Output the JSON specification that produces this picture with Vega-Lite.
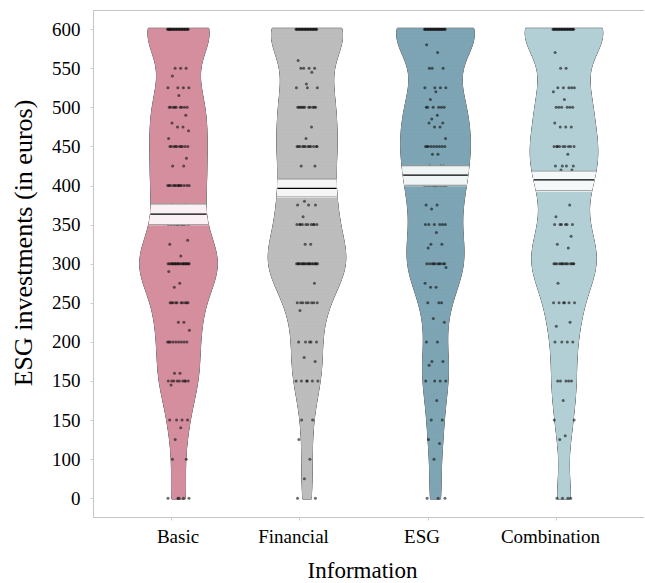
{
"$schema": "https://vega.github.io/schema/vega-lite/v6.json",
"usermeta": {"embedOptions": {"actions": false}},
"autosize": {"type": "none"},
"padding": {"left": 93, "top": 10, "right": -1, "bottom": 66},
"width": 552,
"height": 507,
"config": {"view": {"stroke": "#c4c4c4", "strokeWidth": 1}, "font": "Liberation Serif"},
"datasets": {
"stats": [
{"g":"Basic","mean":363,"lo":350,"hi":376},
{"g":"Financial","mean":396,"lo":385,"hi":408},
{"g":"ESG","mean":413,"lo":400,"hi":425},
{"g":"Combination","mean":407,"lo":393,"hi":418}
],
"pts": [
{"g":"Basic","v":600},{"g":"Basic","v":600},{"g":"Basic","v":600},{"g":"Basic","v":600},{"g":"Basic","v":600},
{"g":"Basic","v":600},{"g":"Basic","v":600},{"g":"Basic","v":600},{"g":"Basic","v":600},{"g":"Basic","v":600},
{"g":"Basic","v":600},{"g":"Basic","v":600},{"g":"Basic","v":600},{"g":"Basic","v":600},{"g":"Basic","v":600},
{"g":"Basic","v":600},{"g":"Basic","v":600},{"g":"Basic","v":600},{"g":"Basic","v":600},{"g":"Basic","v":600},
{"g":"Basic","v":600},{"g":"Basic","v":600},{"g":"Basic","v":600},{"g":"Basic","v":600},{"g":"Basic","v":600},
{"g":"Basic","v":550},{"g":"Basic","v":550},{"g":"Basic","v":550},{"g":"Basic","v":540},
{"g":"Basic","v":525},{"g":"Basic","v":525},{"g":"Basic","v":525},{"g":"Basic","v":525},{"g":"Basic","v":515},
{"g":"Basic","v":500},{"g":"Basic","v":500},{"g":"Basic","v":500},{"g":"Basic","v":500},{"g":"Basic","v":500},
{"g":"Basic","v":500},{"g":"Basic","v":500},{"g":"Basic","v":500},{"g":"Basic","v":500},
{"g":"Basic","v":490},{"g":"Basic","v":480},{"g":"Basic","v":475},{"g":"Basic","v":475},{"g":"Basic","v":470},{"g":"Basic","v":460},
{"g":"Basic","v":450},{"g":"Basic","v":450},{"g":"Basic","v":450},{"g":"Basic","v":450},{"g":"Basic","v":450},
{"g":"Basic","v":450},{"g":"Basic","v":450},{"g":"Basic","v":450},{"g":"Basic","v":450},{"g":"Basic","v":450},
{"g":"Basic","v":435},{"g":"Basic","v":425},{"g":"Basic","v":425},
{"g":"Basic","v":400},{"g":"Basic","v":400},{"g":"Basic","v":400},{"g":"Basic","v":400},{"g":"Basic","v":400},
{"g":"Basic","v":400},{"g":"Basic","v":400},{"g":"Basic","v":400},{"g":"Basic","v":400},{"g":"Basic","v":400},
{"g":"Basic","v":400},{"g":"Basic","v":400},{"g":"Basic","v":400},
{"g":"Basic","v":375},{"g":"Basic","v":375},
{"g":"Basic","v":350},{"g":"Basic","v":350},{"g":"Basic","v":350},{"g":"Basic","v":350},{"g":"Basic","v":350},
{"g":"Basic","v":350},{"g":"Basic","v":350},{"g":"Basic","v":350},{"g":"Basic","v":350},{"g":"Basic","v":350},
{"g":"Basic","v":330},{"g":"Basic","v":325},{"g":"Basic","v":310},
{"g":"Basic","v":300},{"g":"Basic","v":300},{"g":"Basic","v":300},{"g":"Basic","v":300},{"g":"Basic","v":300},
{"g":"Basic","v":300},{"g":"Basic","v":300},{"g":"Basic","v":300},{"g":"Basic","v":300},{"g":"Basic","v":300},
{"g":"Basic","v":300},{"g":"Basic","v":300},{"g":"Basic","v":300},{"g":"Basic","v":300},{"g":"Basic","v":300},
{"g":"Basic","v":300},{"g":"Basic","v":300},{"g":"Basic","v":300},{"g":"Basic","v":300},{"g":"Basic","v":300},
{"g":"Basic","v":300},{"g":"Basic","v":300},
{"g":"Basic","v":290},{"g":"Basic","v":275},{"g":"Basic","v":270},
{"g":"Basic","v":250},{"g":"Basic","v":250},{"g":"Basic","v":250},{"g":"Basic","v":250},{"g":"Basic","v":250},
{"g":"Basic","v":250},{"g":"Basic","v":250},{"g":"Basic","v":250},{"g":"Basic","v":250},{"g":"Basic","v":250},
{"g":"Basic","v":225},{"g":"Basic","v":225},{"g":"Basic","v":215},
{"g":"Basic","v":200},{"g":"Basic","v":200},{"g":"Basic","v":200},{"g":"Basic","v":200},{"g":"Basic","v":200},
{"g":"Basic","v":200},{"g":"Basic","v":200},{"g":"Basic","v":200},{"g":"Basic","v":200},
{"g":"Basic","v":160},{"g":"Basic","v":160},
{"g":"Basic","v":150},{"g":"Basic","v":150},{"g":"Basic","v":150},{"g":"Basic","v":150},{"g":"Basic","v":150},
{"g":"Basic","v":150},{"g":"Basic","v":150},{"g":"Basic","v":150},{"g":"Basic","v":150},
{"g":"Basic","v":145},
{"g":"Basic","v":100},{"g":"Basic","v":100},{"g":"Basic","v":100},{"g":"Basic","v":100},
{"g":"Basic","v":90},{"g":"Basic","v":75},{"g":"Basic","v":50},{"g":"Basic","v":50},
{"g":"Basic","v":0},{"g":"Basic","v":0},{"g":"Basic","v":0},{"g":"Basic","v":0},{"g":"Basic","v":0},

{"g":"Financial","v":600},{"g":"Financial","v":600},{"g":"Financial","v":600},{"g":"Financial","v":600},{"g":"Financial","v":600},
{"g":"Financial","v":600},{"g":"Financial","v":600},{"g":"Financial","v":600},{"g":"Financial","v":600},{"g":"Financial","v":600},
{"g":"Financial","v":600},{"g":"Financial","v":600},{"g":"Financial","v":600},{"g":"Financial","v":600},{"g":"Financial","v":600},
{"g":"Financial","v":600},{"g":"Financial","v":600},{"g":"Financial","v":600},{"g":"Financial","v":600},{"g":"Financial","v":600},
{"g":"Financial","v":600},{"g":"Financial","v":600},{"g":"Financial","v":600},{"g":"Financial","v":600},
{"g":"Financial","v":560},
{"g":"Financial","v":550},{"g":"Financial","v":550},{"g":"Financial","v":550},{"g":"Financial","v":550},
{"g":"Financial","v":545},{"g":"Financial","v":530},
{"g":"Financial","v":525},{"g":"Financial","v":525},{"g":"Financial","v":525},
{"g":"Financial","v":500},{"g":"Financial","v":500},{"g":"Financial","v":500},{"g":"Financial","v":500},{"g":"Financial","v":500},
{"g":"Financial","v":500},{"g":"Financial","v":500},{"g":"Financial","v":500},{"g":"Financial","v":500},{"g":"Financial","v":500},
{"g":"Financial","v":500},
{"g":"Financial","v":475},{"g":"Financial","v":460},
{"g":"Financial","v":450},{"g":"Financial","v":450},{"g":"Financial","v":450},{"g":"Financial","v":450},{"g":"Financial","v":450},
{"g":"Financial","v":450},{"g":"Financial","v":450},{"g":"Financial","v":450},{"g":"Financial","v":450},{"g":"Financial","v":450},
{"g":"Financial","v":450},{"g":"Financial","v":450},
{"g":"Financial","v":425},{"g":"Financial","v":425},
{"g":"Financial","v":400},{"g":"Financial","v":400},{"g":"Financial","v":400},{"g":"Financial","v":400},{"g":"Financial","v":400},
{"g":"Financial","v":400},{"g":"Financial","v":400},{"g":"Financial","v":400},{"g":"Financial","v":400},
{"g":"Financial","v":380},{"g":"Financial","v":375},{"g":"Financial","v":375},{"g":"Financial","v":375},{"g":"Financial","v":360},
{"g":"Financial","v":350},{"g":"Financial","v":350},{"g":"Financial","v":350},{"g":"Financial","v":350},{"g":"Financial","v":350},
{"g":"Financial","v":350},{"g":"Financial","v":350},{"g":"Financial","v":350},{"g":"Financial","v":350},{"g":"Financial","v":350},
{"g":"Financial","v":325},{"g":"Financial","v":325},
{"g":"Financial","v":300},{"g":"Financial","v":300},{"g":"Financial","v":300},{"g":"Financial","v":300},{"g":"Financial","v":300},
{"g":"Financial","v":300},{"g":"Financial","v":300},{"g":"Financial","v":300},{"g":"Financial","v":300},{"g":"Financial","v":300},
{"g":"Financial","v":300},{"g":"Financial","v":300},{"g":"Financial","v":300},{"g":"Financial","v":300},{"g":"Financial","v":300},
{"g":"Financial","v":300},{"g":"Financial","v":300},{"g":"Financial","v":300},{"g":"Financial","v":300},{"g":"Financial","v":300},
{"g":"Financial","v":275},
{"g":"Financial","v":250},{"g":"Financial","v":250},{"g":"Financial","v":250},{"g":"Financial","v":250},{"g":"Financial","v":250},
{"g":"Financial","v":250},{"g":"Financial","v":250},{"g":"Financial","v":250},
{"g":"Financial","v":240},
{"g":"Financial","v":200},{"g":"Financial","v":200},{"g":"Financial","v":200},{"g":"Financial","v":200},{"g":"Financial","v":200},
{"g":"Financial","v":180},{"g":"Financial","v":175},
{"g":"Financial","v":150},{"g":"Financial","v":150},{"g":"Financial","v":150},{"g":"Financial","v":150},{"g":"Financial","v":150},
{"g":"Financial","v":150},
{"g":"Financial","v":100},{"g":"Financial","v":100},
{"g":"Financial","v":75},{"g":"Financial","v":50},{"g":"Financial","v":25},
{"g":"Financial","v":0},{"g":"Financial","v":0},

{"g":"ESG","v":600},{"g":"ESG","v":600},{"g":"ESG","v":600},{"g":"ESG","v":600},{"g":"ESG","v":600},
{"g":"ESG","v":600},{"g":"ESG","v":600},{"g":"ESG","v":600},{"g":"ESG","v":600},{"g":"ESG","v":600},
{"g":"ESG","v":600},{"g":"ESG","v":600},{"g":"ESG","v":600},{"g":"ESG","v":600},{"g":"ESG","v":600},
{"g":"ESG","v":600},{"g":"ESG","v":600},{"g":"ESG","v":600},{"g":"ESG","v":600},{"g":"ESG","v":600},
{"g":"ESG","v":600},{"g":"ESG","v":600},{"g":"ESG","v":600},{"g":"ESG","v":600},
{"g":"ESG","v":580},{"g":"ESG","v":570},
{"g":"ESG","v":550},{"g":"ESG","v":550},{"g":"ESG","v":550},
{"g":"ESG","v":525},{"g":"ESG","v":525},{"g":"ESG","v":525},{"g":"ESG","v":525},
{"g":"ESG","v":520},{"g":"ESG","v":510},
{"g":"ESG","v":500},{"g":"ESG","v":500},{"g":"ESG","v":500},{"g":"ESG","v":500},{"g":"ESG","v":500},{"g":"ESG","v":500},
{"g":"ESG","v":490},{"g":"ESG","v":485},{"g":"ESG","v":480},{"g":"ESG","v":480},{"g":"ESG","v":475},{"g":"ESG","v":475},{"g":"ESG","v":460},
{"g":"ESG","v":450},{"g":"ESG","v":450},{"g":"ESG","v":450},{"g":"ESG","v":450},{"g":"ESG","v":450},
{"g":"ESG","v":450},{"g":"ESG","v":450},{"g":"ESG","v":450},{"g":"ESG","v":450},
{"g":"ESG","v":440},{"g":"ESG","v":440},
{"g":"ESG","v":425},{"g":"ESG","v":425},{"g":"ESG","v":425},
{"g":"ESG","v":400},{"g":"ESG","v":400},{"g":"ESG","v":400},{"g":"ESG","v":400},{"g":"ESG","v":400},
{"g":"ESG","v":400},{"g":"ESG","v":400},{"g":"ESG","v":400},{"g":"ESG","v":400},{"g":"ESG","v":400},
{"g":"ESG","v":375},{"g":"ESG","v":375},{"g":"ESG","v":370},
{"g":"ESG","v":350},{"g":"ESG","v":350},{"g":"ESG","v":350},{"g":"ESG","v":350},{"g":"ESG","v":350},{"g":"ESG","v":350},
{"g":"ESG","v":340},{"g":"ESG","v":325},{"g":"ESG","v":325},{"g":"ESG","v":320},
{"g":"ESG","v":300},{"g":"ESG","v":300},{"g":"ESG","v":300},{"g":"ESG","v":300},{"g":"ESG","v":300},
{"g":"ESG","v":300},{"g":"ESG","v":300},{"g":"ESG","v":300},{"g":"ESG","v":300},{"g":"ESG","v":300},
{"g":"ESG","v":295},{"g":"ESG","v":275},{"g":"ESG","v":270},{"g":"ESG","v":270},
{"g":"ESG","v":250},{"g":"ESG","v":250},{"g":"ESG","v":250},
{"g":"ESG","v":230},{"g":"ESG","v":225},
{"g":"ESG","v":200},{"g":"ESG","v":200},
{"g":"ESG","v":175},{"g":"ESG","v":175},{"g":"ESG","v":170},
{"g":"ESG","v":150},{"g":"ESG","v":150},{"g":"ESG","v":150},{"g":"ESG","v":150},
{"g":"ESG","v":125},{"g":"ESG","v":100},{"g":"ESG","v":100},
{"g":"ESG","v":75},{"g":"ESG","v":70},{"g":"ESG","v":50},
{"g":"ESG","v":0},{"g":"ESG","v":0},{"g":"ESG","v":0},

{"g":"Combination","v":600},{"g":"Combination","v":600},{"g":"Combination","v":600},{"g":"Combination","v":600},{"g":"Combination","v":600},
{"g":"Combination","v":600},{"g":"Combination","v":600},{"g":"Combination","v":600},{"g":"Combination","v":600},{"g":"Combination","v":600},
{"g":"Combination","v":600},{"g":"Combination","v":600},{"g":"Combination","v":600},{"g":"Combination","v":600},{"g":"Combination","v":600},
{"g":"Combination","v":600},{"g":"Combination","v":600},{"g":"Combination","v":600},{"g":"Combination","v":600},{"g":"Combination","v":600},
{"g":"Combination","v":600},{"g":"Combination","v":600},{"g":"Combination","v":600},{"g":"Combination","v":600},
{"g":"Combination","v":570},
{"g":"Combination","v":550},{"g":"Combination","v":550},
{"g":"Combination","v":525},{"g":"Combination","v":525},{"g":"Combination","v":525},{"g":"Combination","v":525},{"g":"Combination","v":525},
{"g":"Combination","v":520},{"g":"Combination","v":510},
{"g":"Combination","v":500},{"g":"Combination","v":500},{"g":"Combination","v":500},{"g":"Combination","v":500},{"g":"Combination","v":500},{"g":"Combination","v":500},
{"g":"Combination","v":480},{"g":"Combination","v":475},{"g":"Combination","v":475},{"g":"Combination","v":475},
{"g":"Combination","v":450},{"g":"Combination","v":450},{"g":"Combination","v":450},{"g":"Combination","v":450},{"g":"Combination","v":450},
{"g":"Combination","v":450},{"g":"Combination","v":450},{"g":"Combination","v":450},{"g":"Combination","v":450},
{"g":"Combination","v":440},
{"g":"Combination","v":425},{"g":"Combination","v":425},{"g":"Combination","v":425},{"g":"Combination","v":425},
{"g":"Combination","v":420},{"g":"Combination","v":420},
{"g":"Combination","v":400},{"g":"Combination","v":400},{"g":"Combination","v":400},{"g":"Combination","v":400},{"g":"Combination","v":400},
{"g":"Combination","v":400},{"g":"Combination","v":400},
{"g":"Combination","v":375},{"g":"Combination","v":360},
{"g":"Combination","v":350},{"g":"Combination","v":350},{"g":"Combination","v":350},{"g":"Combination","v":350},{"g":"Combination","v":350},{"g":"Combination","v":350},
{"g":"Combination","v":335},{"g":"Combination","v":325},{"g":"Combination","v":320},
{"g":"Combination","v":300},{"g":"Combination","v":300},{"g":"Combination","v":300},{"g":"Combination","v":300},{"g":"Combination","v":300},
{"g":"Combination","v":300},{"g":"Combination","v":300},{"g":"Combination","v":300},{"g":"Combination","v":300},{"g":"Combination","v":300},
{"g":"Combination","v":300},{"g":"Combination","v":300},{"g":"Combination","v":300},{"g":"Combination","v":300},
{"g":"Combination","v":275},
{"g":"Combination","v":250},{"g":"Combination","v":250},{"g":"Combination","v":250},{"g":"Combination","v":250},{"g":"Combination","v":250},{"g":"Combination","v":250},
{"g":"Combination","v":225},{"g":"Combination","v":220},
{"g":"Combination","v":200},{"g":"Combination","v":200},{"g":"Combination","v":200},{"g":"Combination","v":200},
{"g":"Combination","v":150},{"g":"Combination","v":150},{"g":"Combination","v":150},{"g":"Combination","v":150},{"g":"Combination","v":150},
{"g":"Combination","v":125},{"g":"Combination","v":100},{"g":"Combination","v":100},
{"g":"Combination","v":80},{"g":"Combination","v":75},
{"g":"Combination","v":0},{"g":"Combination","v":0},{"g":"Combination","v":0},{"g":"Combination","v":0}
]
},
"data": {"name": "pts"},
"encoding": {
"x": {"field": "g", "type": "nominal",
 "scale": {"domain": ["Basic","Financial","ESG","Combination"], "paddingInner": 0.8288, "paddingOuter": 0.5623, "align": 0.5156},
 "axis": {"title": "Information", "labelAngle": 0, "labelFont": "Liberation Serif", "labelFontSize": 19, "labelColor": "#000000",
  "labelOffset": {"condition": {"test": "datum.value == 'Basic'", "value": 7}, "value": -6},
  "tickOffset": -8, "ticks": true, "tickSize": 3, "tickColor": "#cfcfcf", "domain": false, "grid": false,
  "labelPadding": 22, "labelBaseline": "alphabetic",
  "titleFont": "Liberation Serif", "titleFontSize": 23, "titleFontWeight": "normal", "titleColor": "#000000",
  "titleX": 269, "titleY": 60.5, "titleBaseline": "alphabetic", "titleAlign": "center", "titleAnchor": null}},
"y": {"field": "v", "type": "quantitative",
 "scale": {"domain": [-24, 624.5], "nice": false, "zero": false},
 "axis": {"title": "ESG investments (in euros)", "values": [0,50,100,150,200,250,300,350,400,450,500,550,600],
  "labelExpr": "datum.value == 50 ? '100' : (datum.value == 100 ? '150' : datum.label)",
  "labelFont": "Liberation Serif", "labelFontSize": 19, "labelColor": "#000000", "tickSize": 3, "tickColor": "#cfcfcf",
  "labelPadding": 10, "domain": false, "grid": false,
  "titleFont": "Liberation Serif", "titleFontSize": 26, "titleFontWeight": "normal", "titleColor": "#000000",
  "titleX": -62, "titleY": 232.5, "titleAngle": -90, "titleAlign": "center", "titleBaseline": "alphabetic", "titleAnchor": null}}
},
"resolve": {"scale": {"size": "independent"}},
"layer": [
{"transform": [{"filter": {"field": "g", "equal": "Basic"}}],
 "layer": [
  {"transform": [{"density": "v", "groupby": ["g"], "extent": [0, 600], "steps": 601, "bandwidth": 34, "as": ["v", "density"]}],
   "mark": {"type": "tick", "thickness": 2, "opacity": 1, "color": "#707070", "stroke": "#707070", "strokeWidth": 1},
   "encoding": {"size": {"field": "density", "type": "quantitative", "scale": {"range": [0, 77.5], "zero": true, "nice": false}, "legend": null}}},
  {"transform": [{"density": "v", "groupby": ["g"], "extent": [0, 600], "steps": 601, "bandwidth": 34, "as": ["v", "density"]}],
   "mark": {"type": "tick", "thickness": 2, "opacity": 1, "color": "#d48e9e"},
   "encoding": {"size": {"field": "density", "type": "quantitative", "scale": {"range": [0, 77.5], "zero": true, "nice": false}, "legend": null}}},
  {"transform": [{"window": [{"op": "row_number", "as": "r"}], "groupby": ["g"]}],
   "mark": {"type": "circle", "size": 9, "color": "#141414", "opacity": 0.62},
   "encoding": {"xOffset": {"field": "r", "type": "ordinal", "scale": {"domain": [1,129,65,193,33,161,97,225,17,145,81,209,49,177,113,241,9,137,73,201,41,169,105,233,25,153,89,217,57,185,121,249,5,133,69,197,37,165,101,229,21,149,85,213,53,181,117,245,13,141,77,205,45,173,109,237,29,157,93,221,61,189,125,253,3,131,67,195,35,163,99,227,19,147,83,211,51,179,115,243,11,139,75,203,43,171,107,235,27,155,91,219,59,187,123,251,7,135,71,199,39,167,103,231,23,151,87,215,55,183,119,247,15,143,79,207,47,175,111,239,31,159,95,223,63,191,127,255,2,130,66,194,34,162,98,226,18,146,82,210,50,178,114,242,10,138,74,202,42,170,106,234,26,154,90,218,58,186,122,250,6,134,70,198,38,166,102,230,22,150,86,214,54,182,118,246,14,142,78,206,46,174,110,238,30,158,94,222,62,190,126,254,4,132,68,196,36,164,100,228,20,148,84,212,52,180,116,244,12,140,76,204,44,172,108,236,28,156,92,220,60,188,124,252,8,136,72,200,40,168,104,232,24,152,88,216,56,184,120,248,16,144,80,208,48,176,112,240,32,160,96,224,64,192,128,256]}}}},
  {"transform": [{"density": "v", "groupby": ["g"], "extent": [0, 600], "steps": 601, "bandwidth": 34, "as": ["v", "density"]},
    {"lookup": "g", "from": {"data": {"name": "stats"}, "key": "g", "fields": ["mean", "lo", "hi"]}},
    {"filter": "datum.v >= datum.lo && datum.v <= datum.hi"}],
   "mark": {"type": "tick", "thickness": 2, "opacity": 1, "color": "#f9f1f3"},
   "encoding": {"size": {"field": "density", "type": "quantitative", "scale": {"range": [0, 77.5], "zero": true, "nice": false}, "legend": null}}},
  {"transform": [{"density": "v", "groupby": ["g"], "extent": [0, 600], "steps": 601, "bandwidth": 34, "as": ["v", "density"]},
    {"lookup": "g", "from": {"data": {"name": "stats"}, "key": "g", "fields": ["mean", "lo", "hi"]}},
    {"filter": "abs(datum.v - datum.lo) < 0.5 || abs(datum.v - datum.hi) < 0.5"}],
   "mark": {"type": "tick", "thickness": 0.8, "opacity": 1, "color": "#8a8a8a"},
   "encoding": {"size": {"field": "density", "type": "quantitative", "scale": {"range": [0, 77.5], "zero": true, "nice": false}, "legend": null}}},
  {"transform": [{"density": "v", "groupby": ["g"], "extent": [0, 600], "steps": 601, "bandwidth": 34, "as": ["v", "density"]},
    {"lookup": "g", "from": {"data": {"name": "stats"}, "key": "g", "fields": ["mean", "lo", "hi"]}},
    {"filter": "abs(datum.v - datum.mean) < 0.5"}],
   "mark": {"type": "tick", "thickness": 1.3, "opacity": 1, "color": "#000000"},
   "encoding": {"size": {"field": "density", "type": "quantitative", "scale": {"range": [0, 77.5], "zero": true, "nice": false}, "legend": null}}}
 ]},
{"transform": [{"filter": {"field": "g", "equal": "Financial"}}],
 "layer": [
  {"transform": [{"density": "v", "groupby": ["g"], "extent": [0, 600], "steps": 601, "bandwidth": 34, "as": ["v", "density"]}],
   "mark": {"type": "tick", "thickness": 2, "opacity": 1, "color": "#707070", "stroke": "#707070", "strokeWidth": 1},
   "encoding": {"size": {"field": "density", "type": "quantitative", "scale": {"range": [0, 77.5], "zero": true, "nice": false}, "legend": null}}},
  {"transform": [{"density": "v", "groupby": ["g"], "extent": [0, 600], "steps": 601, "bandwidth": 34, "as": ["v", "density"]}],
   "mark": {"type": "tick", "thickness": 2, "opacity": 1, "color": "#bdbdbd"},
   "encoding": {"size": {"field": "density", "type": "quantitative", "scale": {"range": [0, 77.5], "zero": true, "nice": false}, "legend": null}}},
  {"transform": [{"window": [{"op": "row_number", "as": "r"}], "groupby": ["g"]}],
   "mark": {"type": "circle", "size": 9, "color": "#141414", "opacity": 0.62},
   "encoding": {"xOffset": {"field": "r", "type": "ordinal", "scale": {"domain": [1,129,65,193,33,161,97,225,17,145,81,209,49,177,113,241,9,137,73,201,41,169,105,233,25,153,89,217,57,185,121,249,5,133,69,197,37,165,101,229,21,149,85,213,53,181,117,245,13,141,77,205,45,173,109,237,29,157,93,221,61,189,125,253,3,131,67,195,35,163,99,227,19,147,83,211,51,179,115,243,11,139,75,203,43,171,107,235,27,155,91,219,59,187,123,251,7,135,71,199,39,167,103,231,23,151,87,215,55,183,119,247,15,143,79,207,47,175,111,239,31,159,95,223,63,191,127,255,2,130,66,194,34,162,98,226,18,146,82,210,50,178,114,242,10,138,74,202,42,170,106,234,26,154,90,218,58,186,122,250,6,134,70,198,38,166,102,230,22,150,86,214,54,182,118,246,14,142,78,206,46,174,110,238,30,158,94,222,62,190,126,254,4,132,68,196,36,164,100,228,20,148,84,212,52,180,116,244,12,140,76,204,44,172,108,236,28,156,92,220,60,188,124,252,8,136,72,200,40,168,104,232,24,152,88,216,56,184,120,248,16,144,80,208,48,176,112,240,32,160,96,224,64,192,128,256]}}}},
  {"transform": [{"density": "v", "groupby": ["g"], "extent": [0, 600], "steps": 601, "bandwidth": 34, "as": ["v", "density"]},
    {"lookup": "g", "from": {"data": {"name": "stats"}, "key": "g", "fields": ["mean", "lo", "hi"]}},
    {"filter": "datum.v >= datum.lo && datum.v <= datum.hi"}],
   "mark": {"type": "tick", "thickness": 2, "opacity": 1, "color": "#f5f5f5"},
   "encoding": {"size": {"field": "density", "type": "quantitative", "scale": {"range": [0, 77.5], "zero": true, "nice": false}, "legend": null}}},
  {"transform": [{"density": "v", "groupby": ["g"], "extent": [0, 600], "steps": 601, "bandwidth": 34, "as": ["v", "density"]},
    {"lookup": "g", "from": {"data": {"name": "stats"}, "key": "g", "fields": ["mean", "lo", "hi"]}},
    {"filter": "abs(datum.v - datum.lo) < 0.5 || abs(datum.v - datum.hi) < 0.5"}],
   "mark": {"type": "tick", "thickness": 0.8, "opacity": 1, "color": "#8a8a8a"},
   "encoding": {"size": {"field": "density", "type": "quantitative", "scale": {"range": [0, 77.5], "zero": true, "nice": false}, "legend": null}}},
  {"transform": [{"density": "v", "groupby": ["g"], "extent": [0, 600], "steps": 601, "bandwidth": 34, "as": ["v", "density"]},
    {"lookup": "g", "from": {"data": {"name": "stats"}, "key": "g", "fields": ["mean", "lo", "hi"]}},
    {"filter": "abs(datum.v - datum.mean) < 0.5"}],
   "mark": {"type": "tick", "thickness": 1.3, "opacity": 1, "color": "#000000"},
   "encoding": {"size": {"field": "density", "type": "quantitative", "scale": {"range": [0, 77.5], "zero": true, "nice": false}, "legend": null}}}
 ]},
{"transform": [{"filter": {"field": "g", "equal": "ESG"}}],
 "layer": [
  {"transform": [{"density": "v", "groupby": ["g"], "extent": [0, 600], "steps": 601, "bandwidth": 34, "as": ["v", "density"]}],
   "mark": {"type": "tick", "thickness": 2, "opacity": 1, "color": "#707070", "stroke": "#707070", "strokeWidth": 1},
   "encoding": {"size": {"field": "density", "type": "quantitative", "scale": {"range": [0, 77.5], "zero": true, "nice": false}, "legend": null}}},
  {"transform": [{"density": "v", "groupby": ["g"], "extent": [0, 600], "steps": 601, "bandwidth": 34, "as": ["v", "density"]}],
   "mark": {"type": "tick", "thickness": 2, "opacity": 1, "color": "#7ea5b4"},
   "encoding": {"size": {"field": "density", "type": "quantitative", "scale": {"range": [0, 77.5], "zero": true, "nice": false}, "legend": null}}},
  {"transform": [{"window": [{"op": "row_number", "as": "r"}], "groupby": ["g"]}],
   "mark": {"type": "circle", "size": 9, "color": "#141414", "opacity": 0.62},
   "encoding": {"xOffset": {"field": "r", "type": "ordinal", "scale": {"domain": [1,129,65,193,33,161,97,225,17,145,81,209,49,177,113,241,9,137,73,201,41,169,105,233,25,153,89,217,57,185,121,249,5,133,69,197,37,165,101,229,21,149,85,213,53,181,117,245,13,141,77,205,45,173,109,237,29,157,93,221,61,189,125,253,3,131,67,195,35,163,99,227,19,147,83,211,51,179,115,243,11,139,75,203,43,171,107,235,27,155,91,219,59,187,123,251,7,135,71,199,39,167,103,231,23,151,87,215,55,183,119,247,15,143,79,207,47,175,111,239,31,159,95,223,63,191,127,255,2,130,66,194,34,162,98,226,18,146,82,210,50,178,114,242,10,138,74,202,42,170,106,234,26,154,90,218,58,186,122,250,6,134,70,198,38,166,102,230,22,150,86,214,54,182,118,246,14,142,78,206,46,174,110,238,30,158,94,222,62,190,126,254,4,132,68,196,36,164,100,228,20,148,84,212,52,180,116,244,12,140,76,204,44,172,108,236,28,156,92,220,60,188,124,252,8,136,72,200,40,168,104,232,24,152,88,216,56,184,120,248,16,144,80,208,48,176,112,240,32,160,96,224,64,192,128,256]}}}},
  {"transform": [{"density": "v", "groupby": ["g"], "extent": [0, 600], "steps": 601, "bandwidth": 34, "as": ["v", "density"]},
    {"lookup": "g", "from": {"data": {"name": "stats"}, "key": "g", "fields": ["mean", "lo", "hi"]}},
    {"filter": "datum.v >= datum.lo && datum.v <= datum.hi"}],
   "mark": {"type": "tick", "thickness": 2, "opacity": 1, "color": "#eff4f5"},
   "encoding": {"size": {"field": "density", "type": "quantitative", "scale": {"range": [0, 77.5], "zero": true, "nice": false}, "legend": null}}},
  {"transform": [{"density": "v", "groupby": ["g"], "extent": [0, 600], "steps": 601, "bandwidth": 34, "as": ["v", "density"]},
    {"lookup": "g", "from": {"data": {"name": "stats"}, "key": "g", "fields": ["mean", "lo", "hi"]}},
    {"filter": "abs(datum.v - datum.lo) < 0.5 || abs(datum.v - datum.hi) < 0.5"}],
   "mark": {"type": "tick", "thickness": 0.8, "opacity": 1, "color": "#8a8a8a"},
   "encoding": {"size": {"field": "density", "type": "quantitative", "scale": {"range": [0, 77.5], "zero": true, "nice": false}, "legend": null}}},
  {"transform": [{"density": "v", "groupby": ["g"], "extent": [0, 600], "steps": 601, "bandwidth": 34, "as": ["v", "density"]},
    {"lookup": "g", "from": {"data": {"name": "stats"}, "key": "g", "fields": ["mean", "lo", "hi"]}},
    {"filter": "abs(datum.v - datum.mean) < 0.5"}],
   "mark": {"type": "tick", "thickness": 1.3, "opacity": 1, "color": "#000000"},
   "encoding": {"size": {"field": "density", "type": "quantitative", "scale": {"range": [0, 77.5], "zero": true, "nice": false}, "legend": null}}}
 ]},
{"transform": [{"filter": {"field": "g", "equal": "Combination"}}],
 "layer": [
  {"transform": [{"density": "v", "groupby": ["g"], "extent": [0, 600], "steps": 601, "bandwidth": 34, "as": ["v", "density"]}],
   "mark": {"type": "tick", "thickness": 2, "opacity": 1, "color": "#707070", "stroke": "#707070", "strokeWidth": 1},
   "encoding": {"size": {"field": "density", "type": "quantitative", "scale": {"range": [0, 77.5], "zero": true, "nice": false}, "legend": null}}},
  {"transform": [{"density": "v", "groupby": ["g"], "extent": [0, 600], "steps": 601, "bandwidth": 34, "as": ["v", "density"]}],
   "mark": {"type": "tick", "thickness": 2, "opacity": 1, "color": "#b2cfd5"},
   "encoding": {"size": {"field": "density", "type": "quantitative", "scale": {"range": [0, 77.5], "zero": true, "nice": false}, "legend": null}}},
  {"transform": [{"window": [{"op": "row_number", "as": "r"}], "groupby": ["g"]}],
   "mark": {"type": "circle", "size": 9, "color": "#141414", "opacity": 0.62},
   "encoding": {"xOffset": {"field": "r", "type": "ordinal", "scale": {"domain": [1,129,65,193,33,161,97,225,17,145,81,209,49,177,113,241,9,137,73,201,41,169,105,233,25,153,89,217,57,185,121,249,5,133,69,197,37,165,101,229,21,149,85,213,53,181,117,245,13,141,77,205,45,173,109,237,29,157,93,221,61,189,125,253,3,131,67,195,35,163,99,227,19,147,83,211,51,179,115,243,11,139,75,203,43,171,107,235,27,155,91,219,59,187,123,251,7,135,71,199,39,167,103,231,23,151,87,215,55,183,119,247,15,143,79,207,47,175,111,239,31,159,95,223,63,191,127,255,2,130,66,194,34,162,98,226,18,146,82,210,50,178,114,242,10,138,74,202,42,170,106,234,26,154,90,218,58,186,122,250,6,134,70,198,38,166,102,230,22,150,86,214,54,182,118,246,14,142,78,206,46,174,110,238,30,158,94,222,62,190,126,254,4,132,68,196,36,164,100,228,20,148,84,212,52,180,116,244,12,140,76,204,44,172,108,236,28,156,92,220,60,188,124,252,8,136,72,200,40,168,104,232,24,152,88,216,56,184,120,248,16,144,80,208,48,176,112,240,32,160,96,224,64,192,128,256]}}}},
  {"transform": [{"density": "v", "groupby": ["g"], "extent": [0, 600], "steps": 601, "bandwidth": 34, "as": ["v", "density"]},
    {"lookup": "g", "from": {"data": {"name": "stats"}, "key": "g", "fields": ["mean", "lo", "hi"]}},
    {"filter": "datum.v >= datum.lo && datum.v <= datum.hi"}],
   "mark": {"type": "tick", "thickness": 2, "opacity": 1, "color": "#f4f8f9"},
   "encoding": {"size": {"field": "density", "type": "quantitative", "scale": {"range": [0, 77.5], "zero": true, "nice": false}, "legend": null}}},
  {"transform": [{"density": "v", "groupby": ["g"], "extent": [0, 600], "steps": 601, "bandwidth": 34, "as": ["v", "density"]},
    {"lookup": "g", "from": {"data": {"name": "stats"}, "key": "g", "fields": ["mean", "lo", "hi"]}},
    {"filter": "abs(datum.v - datum.lo) < 0.5 || abs(datum.v - datum.hi) < 0.5"}],
   "mark": {"type": "tick", "thickness": 0.8, "opacity": 1, "color": "#8a8a8a"},
   "encoding": {"size": {"field": "density", "type": "quantitative", "scale": {"range": [0, 77.5], "zero": true, "nice": false}, "legend": null}}},
  {"transform": [{"density": "v", "groupby": ["g"], "extent": [0, 600], "steps": 601, "bandwidth": 34, "as": ["v", "density"]},
    {"lookup": "g", "from": {"data": {"name": "stats"}, "key": "g", "fields": ["mean", "lo", "hi"]}},
    {"filter": "abs(datum.v - datum.mean) < 0.5"}],
   "mark": {"type": "tick", "thickness": 1.3, "opacity": 1, "color": "#000000"},
   "encoding": {"size": {"field": "density", "type": "quantitative", "scale": {"range": [0, 77.5], "zero": true, "nice": false}, "legend": null}}}
 ]}
]
}
